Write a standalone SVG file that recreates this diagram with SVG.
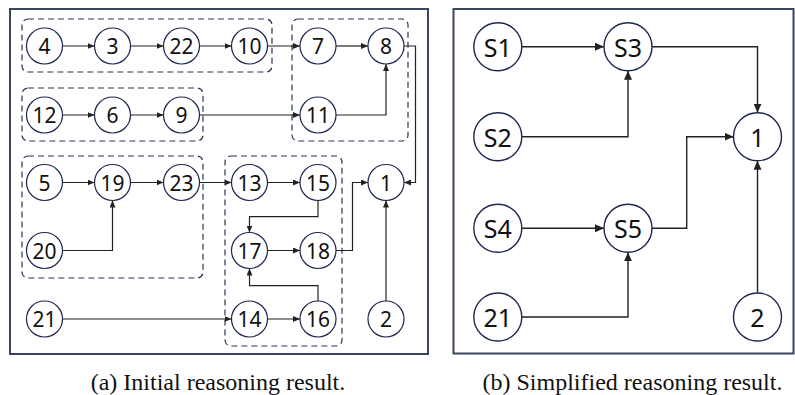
<svg xmlns="http://www.w3.org/2000/svg" width="795" height="395" viewBox="0 0 795 395">
<style>
.frame{fill:none;stroke:#3a4462;stroke-width:2}
.grp{fill:none;stroke:#2a3456;stroke-width:1.2;stroke-dasharray:6 4}
.nl circle{fill:#fff;stroke:#1e2750;stroke-width:1.2}
.nr circle{fill:#fff;stroke:#1e2750;stroke-width:1.4}
.nl text{font-family:"Noto Sans","Open Sans",sans-serif;font-size:21px;fill:#111;text-anchor:middle;dominant-baseline:central}
.nr text{font-family:"Noto Sans","Open Sans",sans-serif;font-size:25px;fill:#111;text-anchor:middle;dominant-baseline:central}
.el path{fill:none;stroke:#222;stroke-width:1.2;marker-end:url(#arL)}
.er path{fill:none;stroke:#222;stroke-width:1.4;marker-end:url(#arR)}
.cap{font-size:24px;fill:#111;text-anchor:middle}
</style>
<defs>
<marker id="arL" markerUnits="userSpaceOnUse" markerWidth="7" markerHeight="6" refX="7" refY="3" orient="auto"><path d="M0,0 L7,3 L0,6 z" fill="#222"/></marker>
<marker id="arR" markerUnits="userSpaceOnUse" markerWidth="9" markerHeight="8" refX="9" refY="4" orient="auto"><path d="M0,0 L9,4 L0,8 z" fill="#222"/></marker>
</defs>
<rect width="795" height="395" fill="#fff"/>
<rect class="frame" x="10" y="9" width="418" height="345"/>
<rect class="frame" x="453.5" y="9" width="340" height="344.5"/>
<g id="groups">
<rect class="grp" x="22" y="19" width="250" height="53" rx="6"/>
<rect class="grp" x="292" y="19" width="116" height="122" rx="6"/>
<rect class="grp" x="22" y="88" width="181" height="53" rx="6"/>
<rect class="grp" x="22" y="156" width="181" height="122" rx="6"/>
<rect class="grp" x="225" y="156" width="117" height="190" rx="6"/>
</g>
<g id="connectors-a" class="el">
<path d="M62.5,46 H94.5"/>
<path d="M130.5,46 H163.5"/>
<path d="M199.5,46 H231.5"/>
<path d="M267.5,46 H300"/>
<path d="M336,46 H368"/>
<path d="M62.5,115 H94.5"/>
<path d="M130.5,115 H163.5"/>
<path d="M199.5,115 H300"/>
<path d="M336,115 H386 V64"/>
<path d="M404,46 H415.5 V182.5 H404"/>
<path d="M62.5,182.5 H94.5"/>
<path d="M130.5,182.5 H163.5"/>
<path d="M199.5,182.5 H231.5"/>
<path d="M267.5,182.5 H300"/>
<path d="M62.5,250.5 H112.5 V200.5"/>
<path d="M318,200.5 V216.7 H249.5 V232.5"/>
<path d="M267.5,250.5 H300"/>
<path d="M336,250.5 H352.5 V182.5 H368"/>
<path d="M318,301 V285.7 H249.5 V268.5"/>
<path d="M62.5,319 H231.5"/>
<path d="M267.5,319 H300"/>
<path d="M386,301 V200.5"/>
</g>
<g id="connectors-b" class="er">
<path d="M521.8,46.7 H604"/>
<path d="M652,46.7 H757.5 V112.7"/>
<path d="M521.8,136.7 H628 V70.7"/>
<path d="M521.8,228.3 H604"/>
<path d="M652,228.3 H686.7 V136.7 H733.5"/>
<path d="M521.8,317 H628 V252.3"/>
<path d="M757.5,293 V160.7"/>
</g>
<g id="a4" class="nl"><circle cx="44.5" cy="46" r="18"/><text x="44.5" y="46">4</text></g>
<g id="a3" class="nl"><circle cx="112.5" cy="46" r="18"/><text x="112.5" y="46">3</text></g>
<g id="a22" class="nl"><circle cx="181.5" cy="46" r="18"/><text x="181.5" y="46">22</text></g>
<g id="a10" class="nl"><circle cx="249.5" cy="46" r="18"/><text x="249.5" y="46">10</text></g>
<g id="a7" class="nl"><circle cx="318" cy="46" r="18"/><text x="318" y="46">7</text></g>
<g id="a8" class="nl"><circle cx="386" cy="46" r="18"/><text x="386" y="46">8</text></g>
<g id="a12" class="nl"><circle cx="44.5" cy="115" r="18"/><text x="44.5" y="115">12</text></g>
<g id="a6" class="nl"><circle cx="112.5" cy="115" r="18"/><text x="112.5" y="115">6</text></g>
<g id="a9" class="nl"><circle cx="181.5" cy="115" r="18"/><text x="181.5" y="115">9</text></g>
<g id="a11" class="nl"><circle cx="318" cy="115" r="18"/><text x="318" y="115">11</text></g>
<g id="a5" class="nl"><circle cx="44.5" cy="182.5" r="18"/><text x="44.5" y="182.5">5</text></g>
<g id="a19" class="nl"><circle cx="112.5" cy="182.5" r="18"/><text x="112.5" y="182.5">19</text></g>
<g id="a23" class="nl"><circle cx="181.5" cy="182.5" r="18"/><text x="181.5" y="182.5">23</text></g>
<g id="a13" class="nl"><circle cx="249.5" cy="182.5" r="18"/><text x="249.5" y="182.5">13</text></g>
<g id="a15" class="nl"><circle cx="318" cy="182.5" r="18"/><text x="318" y="182.5">15</text></g>
<g id="a1" class="nl"><circle cx="386" cy="182.5" r="18"/><text x="386" y="182.5">1</text></g>
<g id="a20" class="nl"><circle cx="44.5" cy="250.5" r="18"/><text x="44.5" y="250.5">20</text></g>
<g id="a17" class="nl"><circle cx="249.5" cy="250.5" r="18"/><text x="249.5" y="250.5">17</text></g>
<g id="a18" class="nl"><circle cx="318" cy="250.5" r="18"/><text x="318" y="250.5">18</text></g>
<g id="a21" class="nl"><circle cx="44.5" cy="319" r="18"/><text x="44.5" y="319">21</text></g>
<g id="a14" class="nl"><circle cx="249.5" cy="319" r="18"/><text x="249.5" y="319">14</text></g>
<g id="a16" class="nl"><circle cx="318" cy="319" r="18"/><text x="318" y="319">16</text></g>
<g id="a2" class="nl"><circle cx="386" cy="319" r="18"/><text x="386" y="319">2</text></g>
<g id="bS1" class="nr"><circle cx="497.8" cy="46.7" r="24"/><text x="497.8" y="46.7">S1</text></g>
<g id="bS3" class="nr"><circle cx="628" cy="46.7" r="24"/><text x="628" y="46.7">S3</text></g>
<g id="bS2" class="nr"><circle cx="497.8" cy="136.7" r="24"/><text x="497.8" y="136.7">S2</text></g>
<g id="b1" class="nr"><circle cx="757.5" cy="136.7" r="24"/><text x="757.5" y="136.7">1</text></g>
<g id="bS4" class="nr"><circle cx="497.8" cy="228.3" r="24"/><text x="497.8" y="228.3">S4</text></g>
<g id="bS5" class="nr"><circle cx="628" cy="228.3" r="24"/><text x="628" y="228.3">S5</text></g>
<g id="b21" class="nr"><circle cx="497.8" cy="317" r="24"/><text x="497.8" y="317">21</text></g>
<g id="b2" class="nr"><circle cx="757.5" cy="317" r="24"/><text x="757.5" y="317">2</text></g>
<text class="cap" font-family="'Liberation Serif', 'Times New Roman', Times, serif" x="218" y="390">(a)<tspan dx="6">Initial reasoning result.</tspan></text>
<text class="cap" font-family="'Liberation Serif', 'Times New Roman', Times, serif" x="632.5" y="390">(b)<tspan dx="6">Simplified reasoning result.</tspan></text>
</svg>
